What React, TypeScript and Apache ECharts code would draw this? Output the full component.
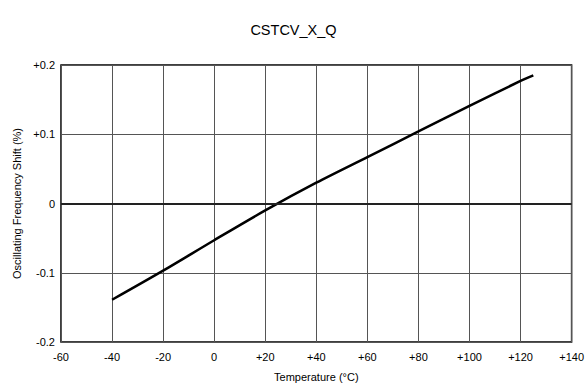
import React, { useEffect, useRef } from "react";
import * as echarts from "echarts";

const titleText = "CSTCV_X_Q";
const xName = "Temperature (°C)";
const yName = "Oscillating Frequency Shift (%)";
const temps = [-40, -20, 0, 20, 40, 60, 80, 100, 120, 125];
const shifts = [-0.139, -0.097, -0.053, -0.010, 0.030, 0.067, 0.104, 0.141, 0.177, 0.185];

const fmt = (v: number, digits: number) => {
  if (Math.abs(v) < 1e-9) return "0";
  const s = v.toFixed(digits);
  return v > 0 ? "+" + s : s;
};

export default function App() {
  const ref = useRef<HTMLDivElement>(null);
  useEffect(() => {
    if (!ref.current) return;
    const chart = echarts.init(ref.current, undefined, { renderer: "svg" });
    const font = "Liberation Sans, Arial, sans-serif";
    chart.setOption({
      animation: false,
      backgroundColor: "#fff",
      title: {
        text: titleText,
        left: "center",
        top: 17,
        textStyle: { fontFamily: font, fontSize: 14.5, fontWeight: "normal", color: "#000" },
      },
      grid: {
        left: 61,
        right: 15,
        top: 65,
        bottom: 41,
        show: true,
        borderColor: "#000",
        borderWidth: 1.5,
        containLabel: false,
      },
      xAxis: {
        type: "value",
        min: -60,
        max: 140,
        interval: 20,
        name: xName,
        nameLocation: "middle",
        nameGap: 29,
        nameTextStyle: { fontFamily: font, fontSize: 11, color: "#000" },
        axisLine: { show: false },
        axisTick: { show: false },
        axisLabel: {
          fontFamily: font,
          fontSize: 11,
          color: "#000",
          margin: 9,
          formatter: (v: number) => fmt(v, 0),
        },
        splitLine: { show: true, lineStyle: { color: "#555", width: 1 } },
      },
      yAxis: {
        type: "value",
        min: -0.2,
        max: 0.2,
        interval: 0.1,
        name: yName,
        nameLocation: "middle",
        nameGap: 37,
        nameTextStyle: { fontFamily: font, fontSize: 11, color: "#000" },
        axisLine: { show: false },
        axisTick: { show: false },
        axisLabel: {
          fontFamily: font,
          fontSize: 11,
          color: "#000",
          margin: 6,
          formatter: (v: number) => fmt(v, 1),
        },
        splitLine: { show: true, lineStyle: { color: "#555", width: 1 } },
      },
      series: [
        {
          type: "line",
          data: temps.map((t, i) => [t, shifts[i]]),
          smooth: 0.3,
          showSymbol: false,
          lineStyle: { color: "#000", width: 2.5 },
          markLine: {
            silent: true,
            symbol: "none",
            label: { show: false },
            lineStyle: { color: "#222", width: 2, type: "solid" },
            data: [{ yAxis: 0 }],
          },
        },
      ],
    });
    return () => chart.dispose();
  }, []);
  return <div ref={ref} style={{ width: 587, height: 387, position: "absolute", left: 0, top: 0 }} />;
}
